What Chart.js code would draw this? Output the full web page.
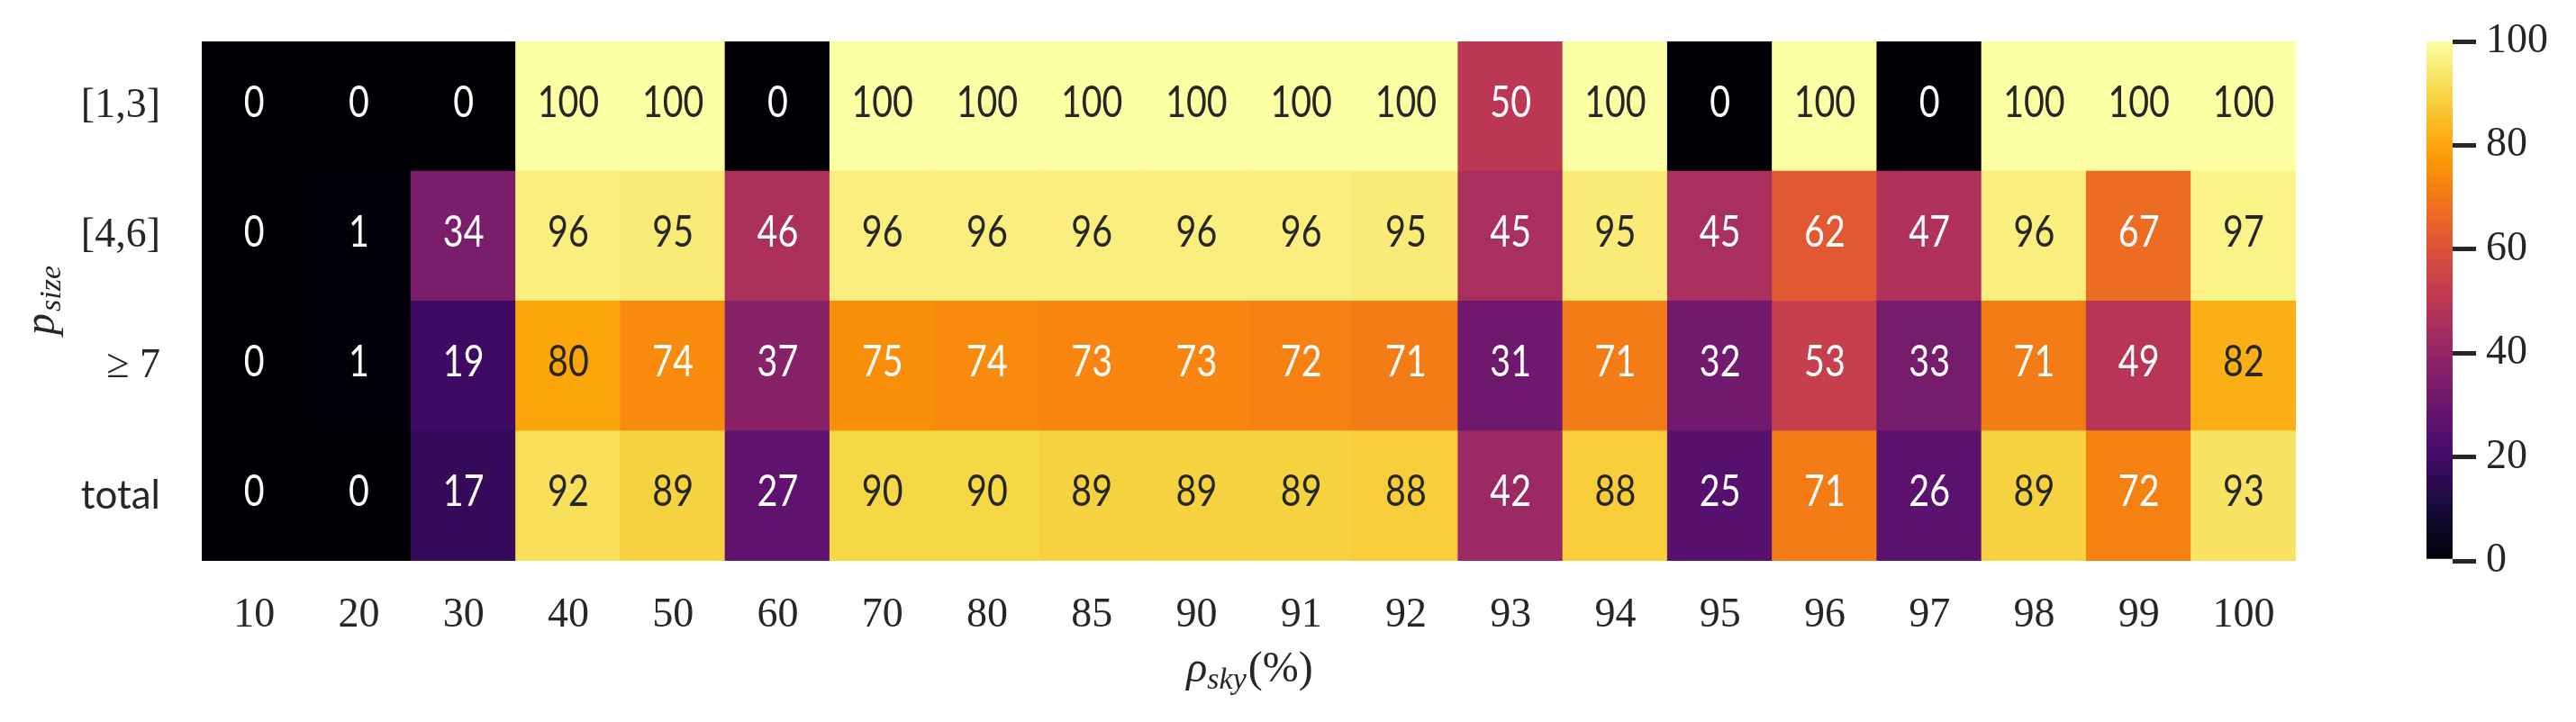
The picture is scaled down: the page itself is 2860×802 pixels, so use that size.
<!DOCTYPE html>
<html>
<head>
<meta charset="utf-8">
<script src="https://cdn.jsdelivr.net/npm/chart.js@4.4.1/dist/chart.umd.min.js"></script>
<style>
  body { margin: 0; background: #ffffff; }
  #wrap { position: relative; width: 2860px; height: 802px; }
  #heat { position: absolute; left: 0; top: 0; }
  #cbar { position: absolute; left: 2600px; top: 0; }
</style>
</head>
<body>
<div id="wrap">
  <canvas id="heat" width="2860" height="802"></canvas>
  <canvas id="cbar" width="260" height="802"></canvas>
</div>
<script>
// categories (sky ratio in %)
const xLabels = ['10', '20', '30', '40', '50', '60', '70', '80', '85', '90', '91', '92', '93', '94', '95', '96', '97', '98', '99', '100'];
// row labels, top to bottom
const rowLabels = ['[1,3]', '[4,6]', '\u2265 7', 'total'];

// values per row
const row13 = [0, 0, 0, 100, 100, 0, 100, 100, 100, 100, 100, 100, 50, 100, 0, 100, 0, 100, 100, 100];
const row46 = [0, 1, 34, 96, 95, 46, 96, 96, 96, 96, 96, 95, 45, 95, 45, 62, 47, 96, 67, 97];
const row7 = [0, 1, 19, 80, 74, 37, 75, 74, 73, 73, 72, 71, 31, 71, 32, 53, 33, 71, 49, 82];
const rowTotal = [0, 0, 17, 92, 89, 27, 90, 90, 89, 89, 89, 88, 42, 88, 25, 71, 26, 89, 72, 93];

// colorbar ticks
const cbTicks = [0, 20, 40, 60, 80, 100];

const serif = '"Liberation Serif", "DejaVu Serif", serif';
const sans = 'Lato, "Open Sans", sans-serif';
const ink = '#262626';

// inferno colormap stops
const infernoStops = [
    [0, '#000004'], [0.1, '#160b39'], [0.2, '#420a68'], [0.25, '#57106e'], [0.3, '#6a176e'],
    [0.4, '#932667'], [0.5, '#bc3754'], [0.6, '#dd513a'], [0.7, '#f37819'], [0.75, '#f98e09'],
    [0.8, '#fca50a'], [0.9, '#f6d746'], [1, '#fcffa4']
];

function hexToRgb(h) {
    return [parseInt(h.slice(1, 3), 16), parseInt(h.slice(3, 5), 16), parseInt(h.slice(5, 7), 16)];
}

function inferno(t) {
    t = Math.max(0, Math.min(1, t));
    for (let i = 1; i < infernoStops.length; i++) {
        if (t <= infernoStops[i][0]) {
            const [t0, c0] = infernoStops[i - 1];
            const [t1, c1] = infernoStops[i];
            const f = (t - t0) / (t1 - t0);
            const a = hexToRgb(c0), b = hexToRgb(c1);
            return a.map((v, k) => Math.round(v + f * (b[k] - v)));
        }
    }
    return hexToRgb(infernoStops[infernoStops.length - 1][1]);
}

function cellColor(v) {
    const c = inferno(v / 100);
    return `rgb(${c[0]}, ${c[1]}, ${c[2]})`;
}

// same rule as seaborn: dark text on light cells
function textColor(v) {
    const lin = inferno(v / 100).map(x => {
        x = x / 255;
        return x <= 0.03928 ? x / 12.92 : Math.pow((x + 0.055) / 1.055, 2.4);
    });
    const lum = 0.2126 * lin[0] + 0.7152 * lin[1] + 0.0722 * lin[2];
    return lum > 0.408 ? ink : '#ffffff';
}

// stacked from the bottom: total, >=7, [4,6], [1,3]
const rows = [rowTotal, row7, row46, row13];

// no extra room for the first/last tick labels
function noPad(scale) {
    scale.paddingTop = 0;
    scale.paddingBottom = 0;
    scale.paddingLeft = 0;
    scale.paddingRight = 0;
}

const annotate = {
    id: 'annotate',
    afterDatasetsDraw(chart) {
        const ctx = chart.ctx;
        chart.data.datasets.forEach((ds, di) => {
            chart.getDatasetMeta(di).data.forEach((bar, i) => {
                const p = bar.getProps(['x', 'y', 'base'], true);
                const v = ds.values[i];
                ctx.save();
                ctx.translate(p.x, (p.y + p.base) / 2 - 4);
                ctx.scale(0.82, 1); // narrow digits like the LaTeX sans font
                ctx.font = '48px ' + sans;
                ctx.textAlign = 'center';
                ctx.textBaseline = 'middle';
                ctx.fillStyle = textColor(v);
                ctx.fillText(String(v), 0, 0);
                ctx.restore();
            });
        });
    },
    afterDraw(chart) {
        const ctx = chart.ctx;
        const area = chart.chartArea;
        ctx.save();
        ctx.fillStyle = ink;
        ctx.textAlign = 'left';
        ctx.textBaseline = 'alphabetic';

        // x title: rho_sky (%)
        const big = 'italic 48px ' + serif;
        const small = 'italic 34px ' + serif;
        const up = '48px ' + serif;
        ctx.font = big; const w1 = ctx.measureText('\u03c1').width;
        ctx.font = small; const w2 = ctx.measureText('sky').width;
        ctx.font = up; const w3 = ctx.measureText('(%)').width;
        let x = (area.left + area.right) / 2 - (w1 + w2 + w3) / 2;
        const base = 757;
        ctx.font = big; ctx.fillText('\u03c1', x, base); x += w1;
        ctx.font = small; ctx.fillText('sky', x, base + 8); x += w2 + 2;
        ctx.font = up; ctx.fillText('(%)', x, base);

        // y title: p_size
        ctx.translate(60, (area.top + area.bottom) / 2);
        ctx.rotate(-Math.PI / 2);
        ctx.font = big; const p1 = ctx.measureText('p').width;
        ctx.font = small; const p2 = ctx.measureText('size').width;
        let yx = -(p1 + p2) / 2;
        ctx.font = big; ctx.fillText('p', yx, 0); yx += p1 + 2;
        ctx.font = small; ctx.fillText('size', yx, 7);
        ctx.restore();
    }
};

new Chart(document.getElementById('heat').getContext('2d'), {
    type: 'bar',
    data: {
        labels: xLabels,
        datasets: rows.map((vals, r) => ({
            label: rowLabels[3 - r],
            values: vals,
            data: vals.map(() => 1),
            backgroundColor: vals.map(cellColor),
            borderWidth: 0,
            inflateAmount: 0.6,
            barPercentage: 1,
            categoryPercentage: 1,
        })),
    },
    options: {
        responsive: false,
        animation: false,
        events: [],
        layout: { padding: { left: 0, right: 311, top: 46, bottom: 79 } },
        plugins: {
            legend: { display: false },
            tooltip: { enabled: false },
        },
        scales: {
            x: {
                stacked: true,
                grid: { display: false, drawTicks: false },
                border: { display: false },
                ticks: { color: ink, font: { family: serif, size: 46 }, padding: 33, maxRotation: 0, autoSkip: false },
                afterFit(scale) { noPad(scale); scale.height = 100; },
            },
            y: {
                stacked: true,
                min: 0,
                max: 4,
                grid: { display: false, drawTicks: false },
                border: { display: false },
                afterBuildTicks(scale) {
                    scale.ticks = [0.5, 1.5, 2.5, 3.5].map(v => ({ value: v }));
                },
                ticks: {
                    color: ink,
                    padding: 46,
                    font: (c) => (c.index === 0 ? { family: sans, size: 44 } : { family: serif, size: 46 }),
                    callback: (v) => rowLabels[3 - Math.floor(v)],
                },
                afterFit(scale) { noPad(scale); scale.width = 224; },
            },
        },
    },
    plugins: [annotate],
});

// colorbar
new Chart(document.getElementById('cbar').getContext('2d'), {
    type: 'bar',
    data: {
        labels: [''],
        datasets: [{
            data: [100],
            borderWidth: 0,
            barPercentage: 1,
            categoryPercentage: 1,
            backgroundColor(c) {
                const area = c.chart.chartArea;
                if (!area) return '#000000';
                const g = c.chart.ctx.createLinearGradient(0, area.bottom, 0, area.top);
                for (let i = 0; i <= 50; i++) g.addColorStop(i / 50, cellColor(i * 2));
                return g;
            },
        }],
    },
    options: {
        responsive: false,
        animation: false,
        events: [],
        layout: { padding: { left: 94, right: 0, top: 46, bottom: 179 } },
        plugins: { legend: { display: false }, tooltip: { enabled: false } },
        scales: {
            x: { display: false },
            y: {
                position: 'right',
                min: 0,
                max: 100,
                afterBuildTicks(scale) {
                    scale.ticks = cbTicks.map(v => ({ value: v }));
                },
                grid: { drawOnChartArea: false, tickLength: 26, lineWidth: 5, tickWidth: 5, tickColor: ink },
                border: { display: false },
                ticks: { color: ink, font: { family: serif, size: 46 }, padding: 11 },
                afterFit(scale) { noPad(scale); scale.width = 137; },
            },
        },
    },
});
</script>
</body>
</html>
